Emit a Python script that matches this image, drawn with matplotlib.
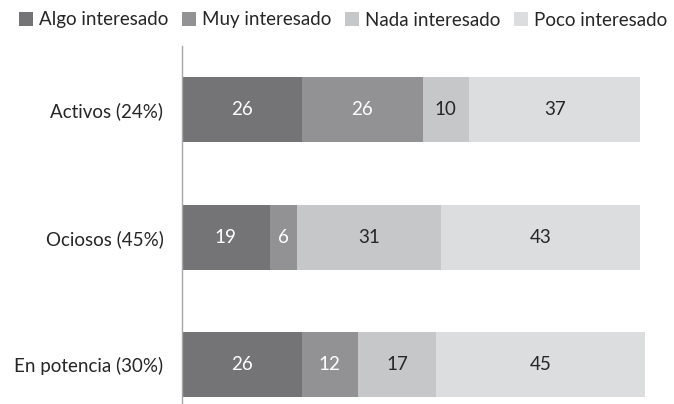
import matplotlib.pyplot as plt
import numpy as np

# data
categorias = ['Activos (24%)', 'Ociosos (45%)', 'En potencia (30%)']
series = ['Algo interesado', 'Muy interesado', 'Nada interesado', 'Poco interesado']
algo = [26, 19, 26]
muy = [26, 6, 12]
nada = [10, 31, 17]
poco = [37, 43, 45]

colores = ['#747477', '#929295', '#c6c7c9', '#dcdddf']
color_texto = ['white', 'white', '#262626', '#262626']

plt.rcParams['font.family'] = ['Lato', 'DejaVu Sans']

fig = plt.figure(figsize=(6.74, 4.04), dpi=100)
ax = fig.add_axes([181.5 / 674, -0.0606, 463.5 / 674, 382.5 / 404])

y = np.arange(len(categorias))
izq = np.zeros(len(categorias))
for nombre, vals, col, tc in zip(series, [algo, muy, nada, poco], colores, color_texto):
    barras = ax.barh(y, vals, left=izq, height=0.51, color=col, label=nombre)
    ax.bar_label(barras, labels=[str(v) for v in vals], label_type='center',
                 color=tc, fontsize=13.5)
    izq = izq + np.array(vals)

ax.set_xlim(0, 100)
ax.set_ylim(2.5, -0.5)
ax.set_yticks(y)
ax.set_yticklabels(categorias, fontsize=13.5, color='#262626')
ax.tick_params(axis='y', length=0, pad=13)
ax.set_xticks([])
for s in ['top', 'right', 'bottom']:
    ax.spines[s].set_visible(False)
ax.spines['left'].set_color('#a6a6a6')
ax.spines['left'].set_linewidth(1)

fig.legend(loc='center', bbox_to_anchor=(0.5 + 6 / 674, 1 - 20 / 404), ncol=4, frameon=False,
           fontsize=13.5, handlelength=0.75, handleheight=0.75, handletextpad=0.3,
           columnspacing=0.75, labelcolor='#262626', borderaxespad=0, borderpad=0)

fig.savefig('out.png', dpi=100)
